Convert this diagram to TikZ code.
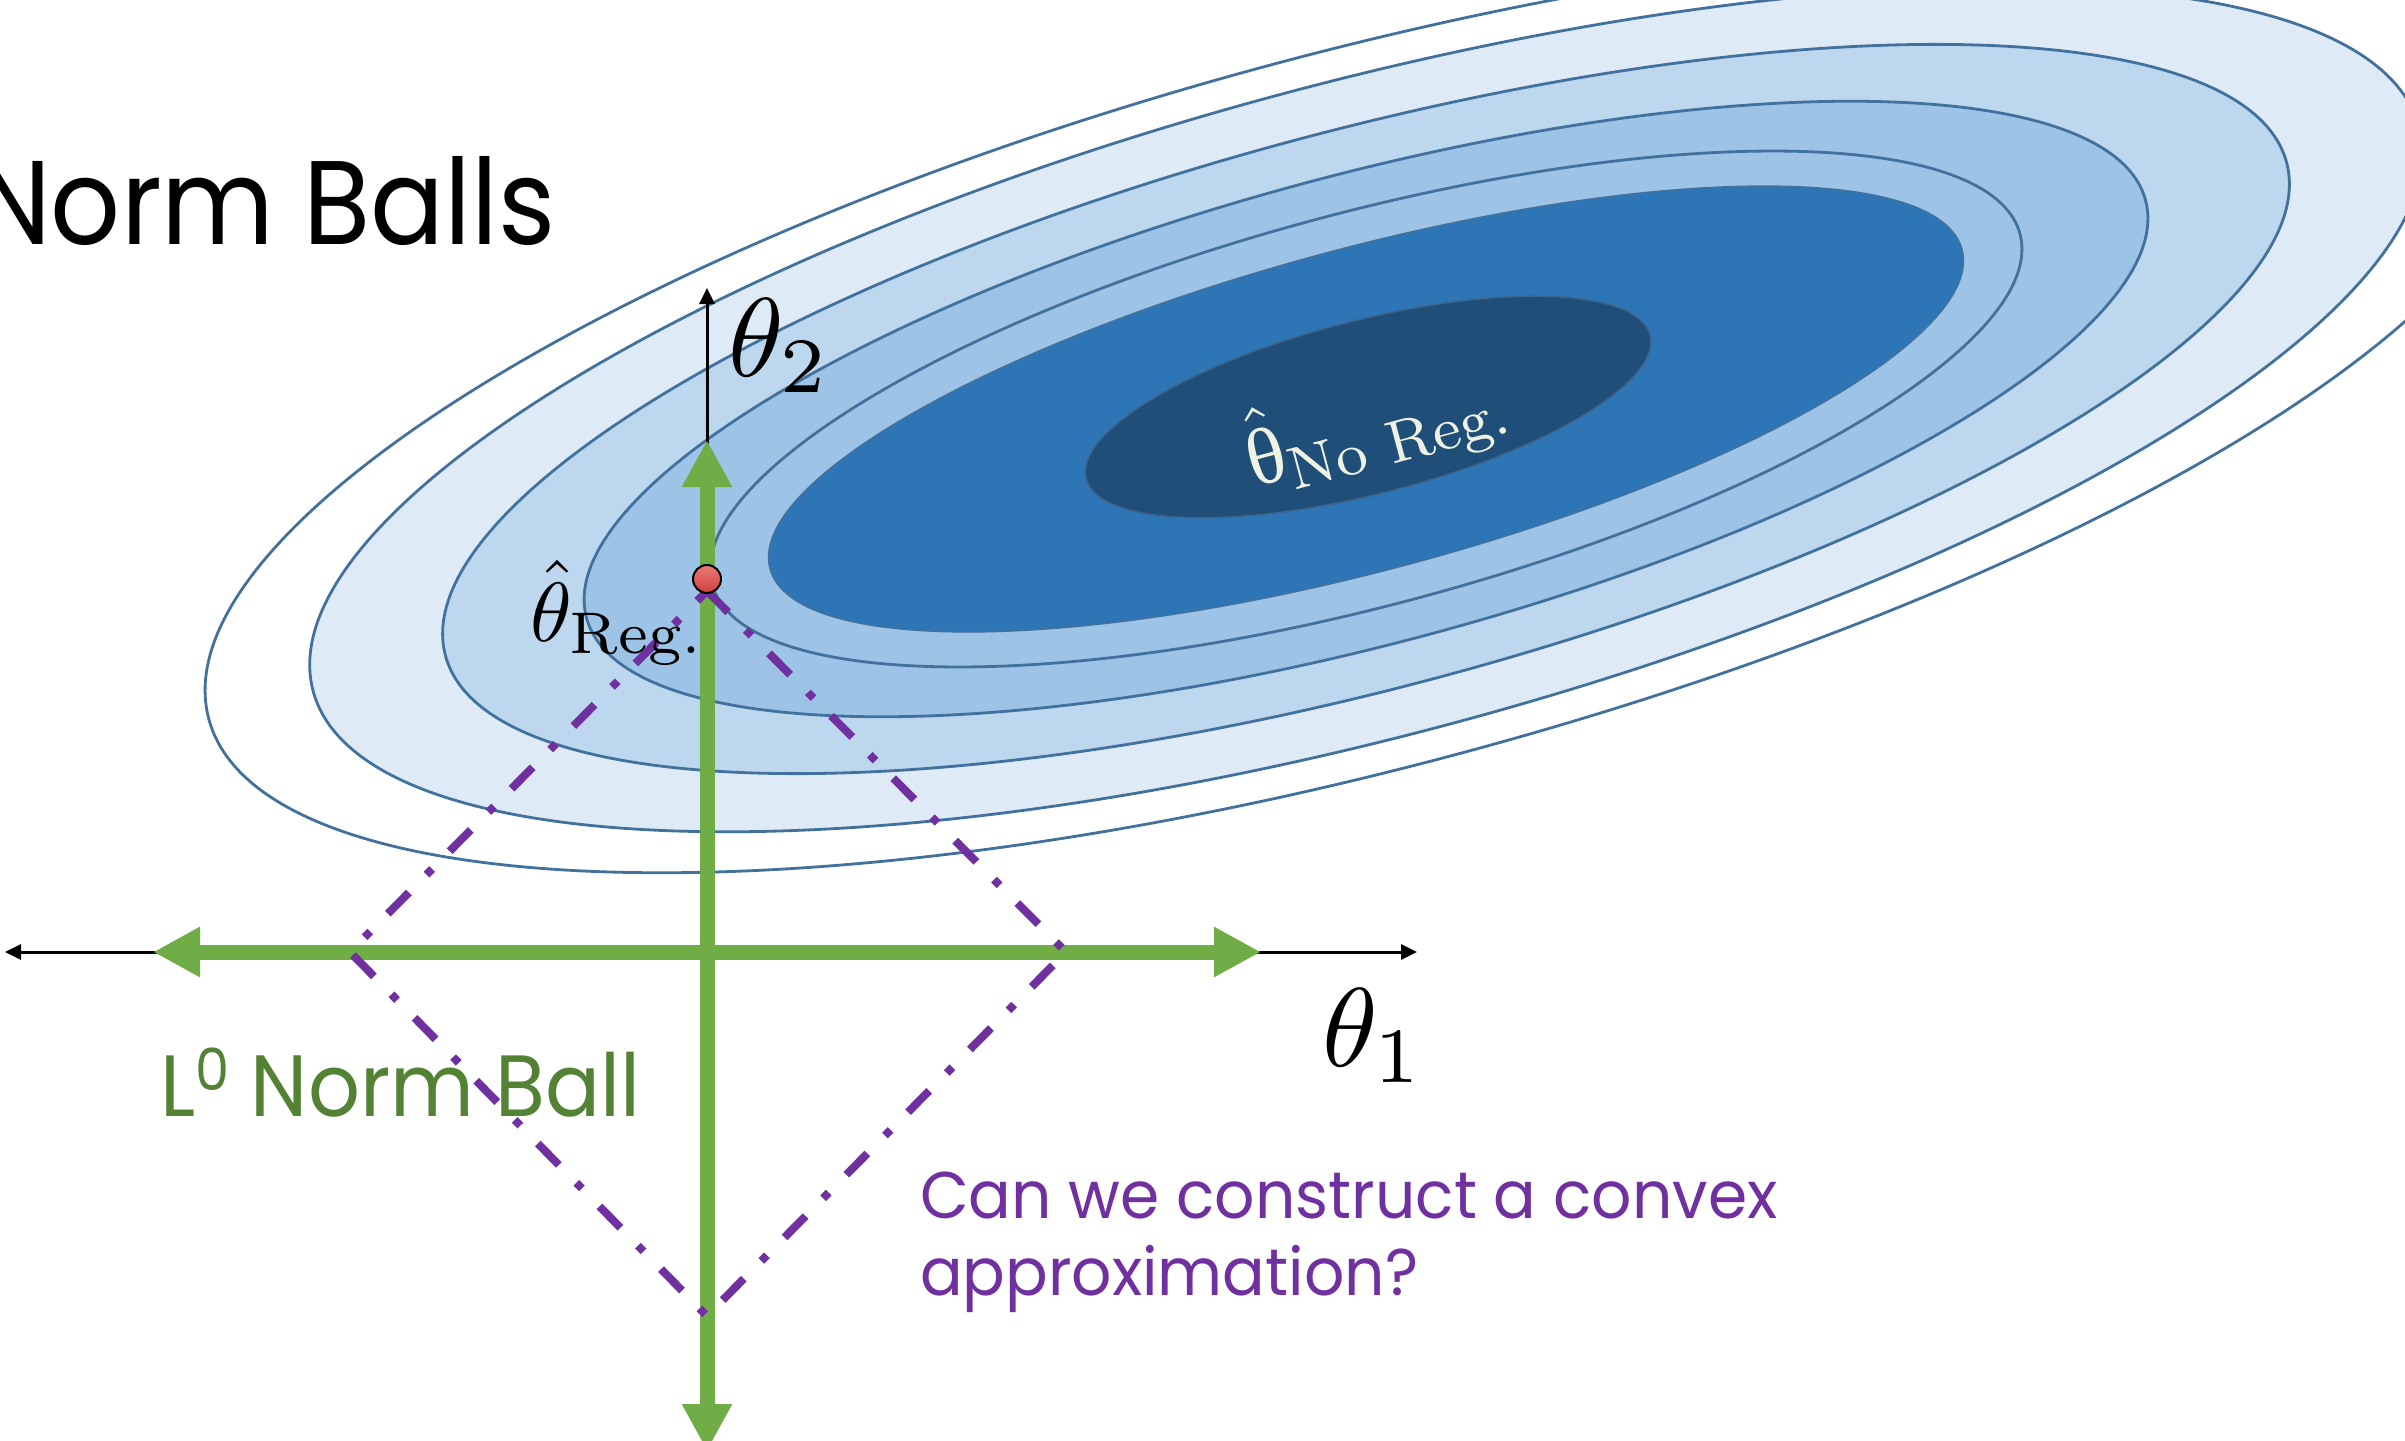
\documentclass[tikz,border=0pt]{standalone}
\usepackage{fontspec}
\usepackage{graphicx}
\usetikzlibrary{arrows.meta}
\newfontfamily\gothic{Poppins}
\newfontfamily\greekserif{Liberation Serif}
\definecolor{lineblue}{RGB}{65,113,156}
\definecolor{cA}{RGB}{222,235,247}
\definecolor{cB}{RGB}{189,215,238}
\definecolor{cC}{RGB}{157,195,230}
\definecolor{cD}{RGB}{46,117,182}
\definecolor{cE}{RGB}{31,78,121}
\definecolor{ggreen}{RGB}{112,173,71}
\definecolor{dgreen}{RGB}{84,130,53}
\definecolor{ppurple}{RGB}{112,48,160}
\definecolor{cream}{RGB}{238,242,226}
\tikzset{
  contour/.style={draw=lineblue, line width=2.8pt},
  blackaxis/.style={draw=black, line width=3pt},
  greenarrow/.style={draw=ggreen, line width=15pt},
  diamondline/.style={draw=ppurple, line width=8pt, dash pattern=on 30pt off 25pt on 8pt off 25pt},
  lbl/.style={inner sep=0pt, outer sep=0pt},
}
\begin{document}
\begin{tikzpicture}[x=1pt,y=-1pt]
\useasboundingbox (0,0) rectangle (2405,1440);
\clip (0,0) rectangle (2405,1440);
\fill[white] (0,0) rectangle (2405,1440);
% contour ellipses
\begin{scope}[shift={(1366,409)}, rotate=15]
  \path[contour] (0,0) ellipse [x radius=1198, y radius=357];
  \path[contour, fill=cA] (0,0) ellipse [x radius=1090, y radius=326];
  \path[contour, fill=cB] (0,0) ellipse [x radius=953, y radius=278];
  \path[contour, fill=cC] (0,0) ellipse [x radius=807, y radius=234];
  \path[contour] (0,0) ellipse [x radius=677, y radius=196];
  \path[fill=cD, draw=lineblue, line width=1.5pt] (0,0) ellipse [x radius=617, y radius=161];
\end{scope}
\begin{scope}[shift={(1368,407)}, rotate=14.3]
  \path[fill=cE, draw={rgb,255:red,60;green,100;blue,140}, line width=1.5pt] (0,0) ellipse [x radius=291, y radius=87];
\end{scope}
% coordinates
\coordinate (O) at (707,952);
\coordinate (axL) at (5,952);
\coordinate (axR) at (1417,952);
\coordinate (axT) at (707,288);
\coordinate (gL) at (153,952);
\coordinate (gR) at (1261,952);
\coordinate (gT) at (707,440);
\coordinate (gB) at (707,1451);
\coordinate (dT) at (707,591);
\coordinate (dR) at (1066,952);
\coordinate (dB) at (707,1316);
\coordinate (dL) at (350,952);
% black axes
\draw[blackaxis, {Triangle[length=16pt,width=15pt]}-{Triangle[length=16pt,width=15pt]}] (axL) -- (axR);
\draw[blackaxis, -{Triangle[length=16pt,width=15pt]}] (O) -- (axT);
% green L0 ball
\draw[greenarrow, {Triangle[length=47pt,width=47pt]}-{Triangle[length=47pt,width=47pt]}] (gL) -- (gR);
\draw[greenarrow, {Triangle[length=47pt,width=47pt]}-{Triangle[length=47pt,width=47pt]}] (gB) -- (gT);
% purple diamond
\draw[diamondline] (dT) -- (dR) -- (dB) -- (dL) -- cycle;
% red dot
\node[circle, draw=black, line width=2pt, minimum size=28pt, inner sep=0pt, top color={rgb,255:red,232;green,122;blue,118}, bottom color={rgb,255:red,208;green,64;blue,64}] (reg) at (707,579) {};
% labels
\node[lbl, anchor=base east, font=\gothic\fontsize{119}{119}\selectfont] (title) at (556,244) {\scalebox{0.92}[1]{Norm Balls}};
\node[lbl, anchor=base west] (t2) at (728,376) {\scalebox{11.2}{$\theta_2$}};
\node[lbl, anchor=base west] (t1) at (1322,1066) {\scalebox{11.2}{$\theta_1$}};
\node[lbl, anchor=base west] (treg) at (530,641) {\scalebox{8.4}{$\hat{\theta}_{\mathrm{Reg.}}$}};
\node[lbl, rotate=15, text=cream] (tnoreg) at (1377,428) {\scalebox{8}{$\hat{\hbox{\greekserif θ}}_{\hbox{\fontsize{7.5}{7.5}\selectfont No Reg.}}$}};
\node[lbl, anchor=base west, text=dgreen, font=\gothic\fontsize{87}{87}\selectfont] (l0) at (160,1116) {\scalebox{0.935}[1]{L\raisebox{26pt}{\fontsize{58}{58}\selectfont 0} Norm Ball}};
\node[lbl, anchor=base west, text=ppurple, font=\gothic\fontsize{66}{66}\selectfont] (q1) at (920,1218) {\scalebox{0.957}[1]{Can we construct a convex}};
\node[lbl, anchor=base west, text=ppurple, font=\gothic\fontsize{66}{66}\selectfont] (q2) at (920,1295) {\scalebox{0.957}[1]{approximation?}};
\end{tikzpicture}
\end{document}
